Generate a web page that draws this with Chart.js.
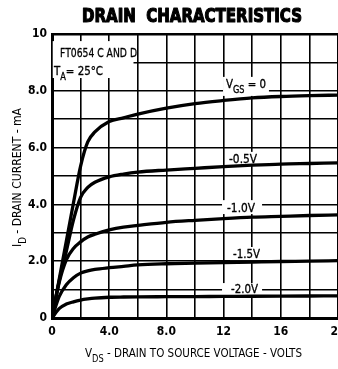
<!doctype html>
<html lang="en">
<head>
<meta charset="utf-8">
<title>Drain Characteristics</title>
<style>
  * { margin: 0; padding: 0; }
  html, body { background: #fff; overflow: hidden; }
  #chart { display: block; }
</style>
</head>
<body>
<canvas id="chart" width="370" height="369"></canvas>
<script src="https://cdn.jsdelivr.net/npm/chart.js"></script>
<script>
// drain-source voltage (V) where each curve is sampled
const vds = [0, 0.5, 1, 1.5, 2, 2.5, 3, 4, 5, 6, 8, 10, 12, 14, 16, 18, 20];

// drain current (mA), one array per gate-source bias
const idVgs0  = [0, 1.35, 2.7, 4.05, 5.35, 6.2, 6.55, 6.92, 7.05, 7.18, 7.39, 7.55, 7.66, 7.75, 7.8, 7.83, 7.85];
const idVgs05 = [0, 1.3, 2.35, 3.45, 4.25, 4.6, 4.78, 4.97, 5.07, 5.14, 5.21, 5.27, 5.33, 5.38, 5.42, 5.44, 5.46];
const idVgs10 = [0, 1.25, 2.05, 2.45, 2.68, 2.85, 2.95, 3.1, 3.2, 3.26, 3.37, 3.44, 3.5, 3.55, 3.58, 3.61, 3.63];
const idVgs15 = [0, 0.75, 1.17, 1.42, 1.58, 1.66, 1.71, 1.77, 1.82, 1.87, 1.91, 1.93, 1.95, 1.97, 1.99, 2.0, 2.02];
const idVgs20 = [0, 0.33, 0.49, 0.57, 0.63, 0.67, 0.7, 0.73, 0.74, 0.745, 0.75, 0.755, 0.76, 0.765, 0.77, 0.775, 0.78];

const vgsLabels = ['0', '-0.5V', '-1.0V', '-1.5V', '-2.0V'];
const xTickLabels = ['0', '4.0', '8.0', '12', '16', '20'];
const yTickLabels = ['0', '2.0', '4.0', '6.0', '8.0', '10'];

const FONT = '"Liberation Sans Narrow", "DejaVu Sans Condensed", "Arial Narrow", sans-serif';

// text made of plain and subscript pieces, stretched to a given width
function partsWidth(ctx, parts, size, weight) {
  let w = 0;
  parts.forEach(p => {
    ctx.font = weight + ' ' + (p.sub ? size * 0.8 : size) + 'px ' + FONT;
    w += ctx.measureText(p.t).width;
  });
  return w;
}
function drawParts(ctx, parts, x, y, size, width, weight, heavy) {
  weight = weight || 'normal';
  const natural = partsWidth(ctx, parts, size, weight);
  ctx.save();
  ctx.translate(x, y);
  ctx.scale(width / natural, 1);
  ctx.fillStyle = '#000';
  ctx.strokeStyle = '#000';
  ctx.lineWidth = heavy || 0;
  ctx.lineJoin = 'round';
  ctx.textAlign = 'left';
  ctx.textBaseline = 'alphabetic';
  let cx = 0;
  parts.forEach(p => {
    ctx.font = weight + ' ' + (p.sub ? size * 0.8 : size) + 'px ' + FONT;
    const dy = p.sub ? size * 0.45 : 0;
    ctx.fillText(p.t, cx, dy);
    if (heavy) ctx.strokeText(p.t, cx, dy);
    cx += ctx.measureText(p.t).width;
  });
  ctx.restore();
}

// curve labels and the test-condition note, in volts / mA
const notes = [
  { parts: [{t: 'FT0654 C AND D'}], x: 0.56, y: 9.19, w: 77, size: 13 },
  { parts: [{t: 'T'}, {t: 'A', sub: true}, {t: '= 25°C'}], x: 0.14, y: 8.56, w: 49, size: 12 },
  { parts: [{t: 'V'}, {t: 'GS', sub: true}, {t: ' = ' + vgsLabels[0]}], x: 12.17, y: 8.10, w: 40, size: 12 },
  { parts: [{t: vgsLabels[1]}], x: 12.38, y: 5.46, w: 28, size: 12 },
  { parts: [{t: vgsLabels[2]}], x: 12.24, y: 3.73, w: 28, size: 12 },
  { parts: [{t: vgsLabels[3]}], x: 12.66, y: 2.11, w: 27, size: 12 },
  { parts: [{t: vgsLabels[4]}], x: 12.52, y: 0.88, w: 27, size: 12 }
];
// white patches behind the labels that break the grid
const patches = [
  [0.05, 5.7, 8.45, 9.75],
  [11.96, 15.17, 7.82, 8.49],
  [12.17, 14.55, 5.39, 5.85],
  [11.89, 14.69, 3.66, 4.15],
  [12.45, 14.69, 2.04, 2.5],
  [11.89, 14.69, 0.81, 1.23]
];

const labelPlugin = {
  id: 'labels',
  beforeDatasetsDraw(chart) {
    const ctx = chart.ctx, xs = chart.scales.x, ys = chart.scales.y;
    ctx.save();
    ctx.fillStyle = '#fff';
    patches.forEach(b => {
      const l = xs.getPixelForValue(b[0]), r = xs.getPixelForValue(b[1]);
      const t = ys.getPixelForValue(b[3]), bt = ys.getPixelForValue(b[2]);
      ctx.fillRect(l, t, r - l, bt - t);
    });
    ctx.restore();
    notes.forEach(n => {
      drawParts(ctx, n.parts, xs.getPixelForValue(n.x), ys.getPixelForValue(n.y), n.size, n.w, 'normal', 0.3);
    });
  },
  afterDraw(chart) {
    const ctx = chart.ctx;
    drawParts(ctx, [{t: 'DRAIN  CHARACTERISTICS'}], 82, 22, 20, 220, 'bold', 1.2);
    drawParts(ctx, [{t: 'V'}, {t: 'DS', sub: true}, {t: ' - DRAIN TO SOURCE VOLTAGE - VOLTS'}], 85, 357, 12, 217);
    ctx.save();
    ctx.translate(21, 247);
    ctx.rotate(-Math.PI / 2);
    drawParts(ctx, [{t: 'I'}, {t: 'D', sub: true}, {t: ' - DRAIN CURRENT - mA'}], 0, 0, 12, 139);
    ctx.restore();
  }
};

const curve = ids => ({
  data: vds.map((v, i) => ({x: v, y: ids[i]})),
  borderColor: '#000',
  borderWidth: 3.3,
  pointRadius: 0,
  fill: false,
  cubicInterpolationMode: 'monotone'
});

const config = {
  type: 'line',
  data: {
    datasets: [curve(idVgs0), curve(idVgs05), curve(idVgs10), curve(idVgs15), curve(idVgs20)]
  },
  options: {
    responsive: false,
    animation: false,
    events: [],
    layout: { padding: { top: 34, right: 32, left: 0, bottom: 0 } },
    plugins: { legend: { display: false }, tooltip: { enabled: false }, title: { display: false } },
    scales: {
      x: {
        type: 'linear', min: 0, max: 20,
        afterFit: s => { s.height = 51; },
        border: { color: '#000', width: 3 },
        grid: { color: '#000', lineWidth: 1.6, drawTicks: false },
        ticks: {
          stepSize: 2, autoSkip: false, maxRotation: 0, padding: 7, color: '#000',
          font: { family: FONT, size: 12, weight: 'bold' },
          callback: v => (v % 4 === 0 ? xTickLabels[v / 4] : '')
        }
      },
      y: {
        type: 'linear', min: 0, max: 10,
        afterFit: s => { s.width = 52; },
        border: { color: '#000', width: 3 },
        grid: {
          color: '#000', drawTicks: false,
          lineWidth: c => (c.tick && c.tick.value === 10 ? 2.5 : 1.6)
        },
        ticks: {
          stepSize: 1, autoSkip: false, padding: 5, color: '#000',
          font: { family: FONT, size: 12, weight: 'bold' },
          callback: v => (v % 2 === 0 ? yTickLabels[v / 2] : '')
        }
      }
    }
  },
  plugins: [labelPlugin]
};

new Chart(document.getElementById('chart'), config);
</script>
</body>
</html>
